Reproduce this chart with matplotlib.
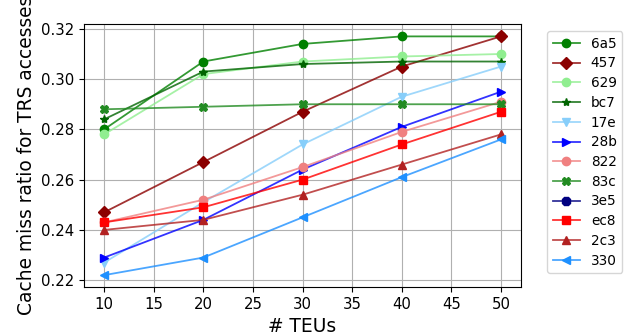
import matplotlib
matplotlib.use('Agg')
import matplotlib.pyplot as plt
from matplotlib.colors import to_rgba

teus = [10, 20, 30, 40, 50]

names = ['6a5', '457', '629', 'bc7', '17e', '28b', '822', '83c', '3e5', 'ec8', '2c3', '330']
miss = {
    '6a5': [0.280, 0.307, 0.314, 0.317, 0.317],
    '457': [0.247, 0.267, 0.287, 0.305, 0.317],
    '629': [0.278, 0.302, 0.307, 0.309, 0.310],
    'bc7': [0.284, 0.303, 0.306, 0.307, 0.307],
    '17e': [0.227, 0.251, 0.274, 0.293, 0.305],
    '28b': [0.229, 0.244, 0.264, 0.281, 0.295],
    '822': [0.243, 0.252, 0.265, 0.279, 0.291],
    '83c': [0.288, 0.289, 0.290, 0.290, 0.290],
    '3e5': [],  # not visible in the chart
    'ec8': [0.243, 0.249, 0.260, 0.274, 0.287],
    '2c3': [0.240, 0.244, 0.254, 0.266, 0.278],
    '330': [0.222, 0.229, 0.245, 0.261, 0.276],
}

colors = ['green', 'darkred', 'lightgreen', 'darkgreen', 'lightskyblue', 'blue',
          'lightcoral', 'forestgreen', 'navy', 'red', 'firebrick', 'dodgerblue']
markers = ['o', 'D', 'o', '*', 'v', '>', 'o', 'X', '8', 's', '^', '<']

fig, ax = plt.subplots(figsize=(6.29, 3.35), dpi=100)
fig.subplots_adjust(left=0.134, right=0.828, bottom=0.143, top=0.927)

for name, c, m in zip(names, colors, markers):
    vals = miss[name]
    ax.plot(teus[:len(vals)], vals, color=to_rgba(c, 0.8), marker=m, markersize=6,
            markerfacecolor=c, markeredgecolor=c, linewidth=1.3, label=name)

ax.set_xticks([10, 15, 20, 25, 30, 35, 40, 45, 50])
ax.set_yticks([0.22, 0.24, 0.26, 0.28, 0.30, 0.32])
ax.set_xlim(8, 52)
ax.set_ylim(0.21725, 0.32175)
ax.grid(True)
ax.tick_params(labelsize=10.7)
ax.set_xlabel('# TEUs', fontsize=13.4)
ax.set_ylabel('Cache miss ratio for TRS accesses', fontsize=13.4)
ax.legend(loc='upper left', bbox_to_anchor=(1.045, 1.0), fontsize=9.8,
          labelspacing=0.42)

fig.savefig('out.png', dpi=100)
